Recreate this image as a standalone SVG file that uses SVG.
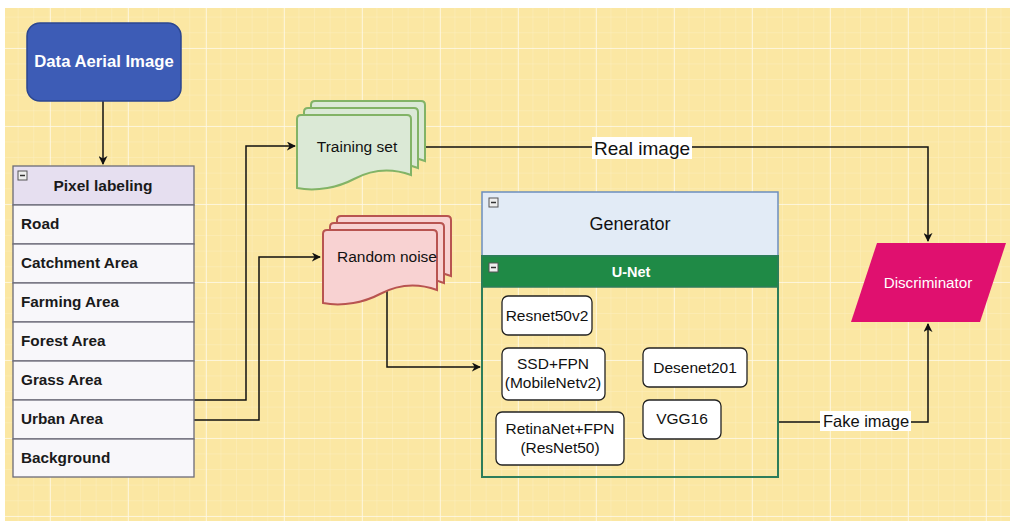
<svg xmlns="http://www.w3.org/2000/svg" width="1010" height="524" viewBox="0 0 1010 524">
<defs>
<style>
text{font-family:"Liberation Sans",Arial,sans-serif;}
.lbl{font-size:15.3px;font-weight:bold;fill:#1a1a1a;}
.box{fill:#ffffff;stroke:#222;stroke-width:1.3;}
.bx{font-size:15.5px;fill:#111;text-anchor:middle;}
.conn{fill:none;stroke:#111;stroke-width:1.5;}
.row{fill:#f8f7fa;stroke:#6b6b78;stroke-width:1.3;}
.minus{fill:#eee;stroke:#555;stroke-width:1;}
</style>
<pattern id="minor" width="15.6" height="15.6" patternUnits="userSpaceOnUse" x="3" y="2">
<path d="M15.6 0V15.6M0 15.6H15.6" stroke="#ffffff" stroke-opacity="0.3" stroke-width="1" fill="none"/>
</pattern>
<pattern id="major" width="78" height="78" patternUnits="userSpaceOnUse" x="51" y="49">
<path d="M78 0V78M0 78H78" stroke="#ffffff" stroke-opacity="0.7" stroke-width="1.5" fill="none"/>
</pattern>
<marker id="arr" viewBox="0 0 10 10" refX="9" refY="5" markerWidth="9" markerHeight="9" markerUnits="userSpaceOnUse" orient="auto">
<path d="M0,0 L10,5 L0,10 L3,5 Z" fill="#111"/>
</marker>
<path id="doc" d="M0,4 Q0,0 4,0 L110,0 Q114,0 114,4 L114,60 C92,52 72,56 57,64 C42,72 20,77 0,73 Z"/>
</defs>

<rect x="0" y="0" width="1010" height="524" fill="#ffffff"/>
<rect x="5" y="8" width="1005" height="513" fill="#fbe7a3"/>
<rect x="5" y="8" width="1005" height="513" fill="url(#minor)"/>
<rect x="5" y="8" width="1005" height="513" fill="url(#major)"/>

<g id="connectors">
<path class="conn" d="M103,101 V164" marker-end="url(#arr)"/>
<path class="conn" d="M194,400 H246 V146 H295" marker-end="url(#arr)"/>
<path class="conn" d="M194,420 H259 V257 H320" marker-end="url(#arr)"/>
<path class="conn" d="M387,290 V367 H480" marker-end="url(#arr)"/>
<path class="conn" d="M426,147 H928 V241" marker-end="url(#arr)"/>
<path class="conn" d="M778,422 H928 V324" marker-end="url(#arr)"/>
<rect x="592" y="137" width="100" height="22" fill="#ffffff"/>
<text x="642" y="155" font-size="19" text-anchor="middle" fill="#111">Real image</text>
<rect x="820" y="411" width="91" height="20" fill="#ffffff"/>
<text x="866" y="427" font-size="16.5" text-anchor="middle" fill="#111">Fake image</text>
</g>

<g id="data-aerial-image">
<rect x="27" y="23" width="154" height="78" rx="13" fill="#3d5cb6" stroke="#2b4690" stroke-width="1.5"/>
<text x="104" y="67" font-size="16.7" font-weight="bold" fill="#ffffff" text-anchor="middle">Data Aerial Image</text>
</g>

<g id="pixel-labeling">
<rect x="13" y="166" width="181" height="39" fill="#e6dff0" stroke="#6b6b78" stroke-width="1.3"/>
<rect class="minus" x="18" y="171" width="9" height="9"/>
<line x1="20" y1="175.5" x2="25" y2="175.5" stroke="#333" stroke-width="1.5"/>
<text x="103" y="191" class="lbl" text-anchor="middle" style="font-size:15.5px">Pixel labeling</text>
<rect class="row" x="13" y="205" width="181" height="39"/>
<text x="21" y="229" class="lbl">Road</text>
<rect class="row" x="13" y="244" width="181" height="39"/>
<text x="21" y="268" class="lbl">Catchment Area</text>
<rect class="row" x="13" y="283" width="181" height="39"/>
<text x="21" y="307" class="lbl">Farming Area</text>
<rect class="row" x="13" y="322" width="181" height="39"/>
<text x="21" y="346" class="lbl">Forest Area</text>
<rect class="row" x="13" y="361" width="181" height="39"/>
<text x="21" y="385" class="lbl">Grass Area</text>
<rect class="row" x="13" y="400" width="181" height="39"/>
<text x="21" y="424" class="lbl">Urban Area</text>
<rect class="row" x="13" y="439" width="181" height="38"/>
<text x="21" y="463" class="lbl">Background</text>
</g>

<g id="training-set" fill="#dbe9d6" stroke="#82b366" stroke-width="2">
<use href="#doc" x="311" y="101"/>
<use href="#doc" x="304" y="108"/>
<use href="#doc" x="297" y="115"/>
<text x="357" y="152" font-size="15.5" text-anchor="middle" fill="#111" stroke="none">Training set</text>
</g>

<g id="random-noise" fill="#f8d2d2" stroke="#b85450" stroke-width="2">
<use href="#doc" x="337" y="216"/>
<use href="#doc" x="330" y="223"/>
<use href="#doc" x="323" y="230"/>
<text x="387" y="262" font-size="15.5" text-anchor="middle" fill="#111" stroke="none">Random noise</text>
</g>

<g id="generator">
<rect x="482" y="192" width="296" height="64" fill="#e2ebf6" stroke="#6c8ebf" stroke-width="1.5"/>
<rect class="minus" x="489" y="198" width="9" height="9"/>
<line x1="491" y1="202.5" x2="496" y2="202.5" stroke="#333" stroke-width="1.5"/>
<text x="630" y="230" font-size="18" text-anchor="middle" fill="#111">Generator</text>
</g>

<g id="u-net">
<rect x="482" y="256" width="296" height="221" fill="none" stroke="#2e7d5b" stroke-width="2"/>
<rect x="482" y="256" width="296" height="31" fill="#1f8a46" stroke="#2e7d5b" stroke-width="1.5"/>
<rect class="minus" x="489" y="263" width="9" height="9"/>
<line x1="491" y1="267.5" x2="496" y2="267.5" stroke="#333" stroke-width="1.5"/>
<text x="631" y="277" font-size="14.5" font-weight="bold" text-anchor="middle" fill="#ffffff">U-Net</text>
</g>

<g id="resnet50v2">
<rect class="box" x="502" y="296" width="90" height="39" rx="6"/>
<text class="bx" x="547" y="321">Resnet50v2</text>
</g>
<g id="ssd-fpn">
<rect class="box" x="502" y="348" width="103" height="52" rx="6"/>
<text class="bx" x="553" y="369">SSD+FPN</text>
<text class="bx" x="553" y="388">(MobileNetv2)</text>
</g>
<g id="desenet201">
<rect class="box" x="643" y="348" width="104" height="39" rx="6"/>
<text class="bx" x="695" y="373">Desenet201</text>
</g>
<g id="retinanet-fpn">
<rect class="box" x="496" y="412" width="128" height="53" rx="6"/>
<text class="bx" x="560" y="434">RetinaNet+FPN</text>
<text class="bx" x="560" y="453">(ResNet50)</text>
</g>
<g id="vgg16">
<rect class="box" x="643" y="400" width="78" height="39" rx="6"/>
<text class="bx" x="682" y="424">VGG16</text>
</g>

<g id="discriminator">
<polygon points="877,243 1006,243 980,322 851,322" fill="#e0106f"/>
<text x="928" y="288" font-size="15.2" text-anchor="middle" fill="#ffffff">Discriminator</text>
</g>
</svg>
